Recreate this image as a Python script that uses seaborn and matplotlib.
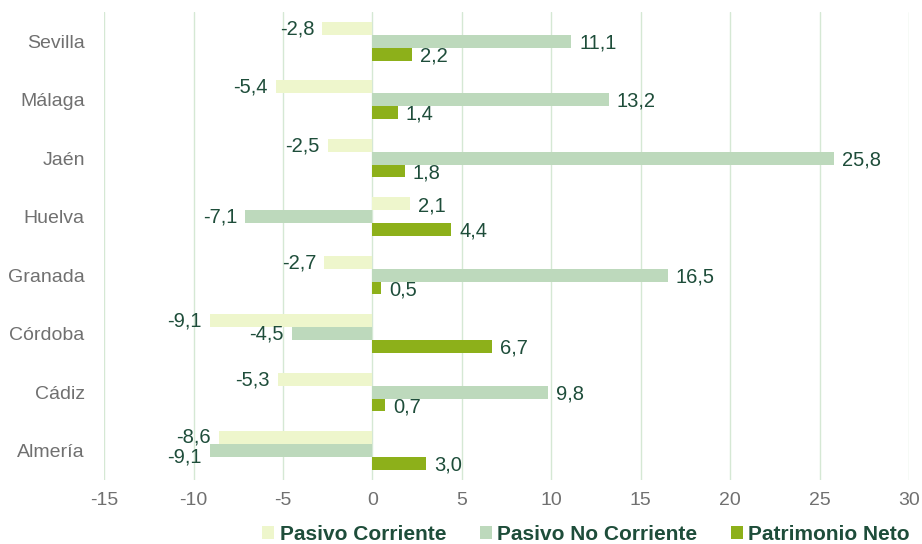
import pandas as pd
import matplotlib
matplotlib.use("Agg")
import matplotlib.pyplot as plt
import seaborn as sns

# === Data ===
provincias = ["Sevilla", "Málaga", "Jaén", "Huelva", "Granada", "Córdoba", "Cádiz", "Almería"]
pasivo_corriente = [-2.8, -5.4, -2.5, 2.1, -2.7, -9.1, -5.3, -8.6]
pasivo_no_corriente = [11.1, 13.2, 25.8, -7.1, 16.5, -4.5, 9.8, -9.1]
patrimonio_neto = [2.2, 1.4, 1.8, 4.4, 0.5, 6.7, 0.7, 3.0]
series = ["Pasivo Corriente", "Pasivo No Corriente", "Patrimonio Neto"]
colores = ["#EEF6CC", "#BDD9BC", "#8DB01A"]

df = pd.DataFrame({
    "provincia": provincias * 3,
    "serie": [series[0]] * 8 + [series[1]] * 8 + [series[2]] * 8,
    "valor": pasivo_corriente + pasivo_no_corriente + patrimonio_neto,
})

sns.set_style("white")
plt.rcParams["font.family"] = ["Liberation Sans", "DejaVu Sans"]
plt.rcParams["axes.unicode_minus"] = False

label_color = "#1E4D3A"
tick_color = "#707070"

fig = plt.figure(figsize=(9.22, 5.44), dpi=100)
ax = fig.add_axes([0.113, 0.118, 0.873, 0.86])

sns.barplot(data=df, y="provincia", x="valor", hue="serie", order=provincias,
            hue_order=series, palette=colores, orient="h", width=0.66,
            saturation=1, linewidth=0, ax=ax, legend=True)

# === Value labels ===
# small vertical nudges so the two Almería labels don't collide
nudge = {(0, 7): -0.03, (1, 7): 0.1}
for i, cont in enumerate(ax.containers):
    for j, bar in enumerate(cont):
        v = bar.get_width()
        y = bar.get_y() + bar.get_height() / 2 + nudge.get((i, j), 0)
        txt = f"{v:.1f}".replace(".", ",")
        if v < 0:
            ax.text(v - 0.45, y + 0.01, txt, ha="right", va="center",
                    fontsize=14.5, color=label_color)
        else:
            ax.text(v + 0.45, y + 0.03, txt, ha="left", va="center",
                    fontsize=14.5, color=label_color)

ax.set_xlim(-15, 30)
ax.set_ylim(7.5, -0.5)
ax.set_xticks(range(-15, 31, 5))
ax.set_xlabel("")
ax.set_ylabel("")
ax.xaxis.grid(True, color="#D5E8D4", linewidth=1)
ax.set_axisbelow(True)
for s in ax.spines.values():
    s.set_visible(False)
ax.tick_params(axis="both", length=0, labelsize=14, labelcolor=tick_color)
ax.tick_params(axis="x", pad=9)
ax.tick_params(axis="y", pad=14)

handles, labels = ax.get_legend_handles_labels()
ax.get_legend().remove()
fig.legend(handles, labels, loc="center", bbox_to_anchor=(586 / 922, 1 - 534 / 544),
           ncol=3, frameon=False, handlelength=0.6, handleheight=0.6,
           handletextpad=0.25, columnspacing=1.6,
           prop={"weight": "bold", "size": 15}, labelcolor=label_color)

fig.savefig("out.png", dpi=100)
